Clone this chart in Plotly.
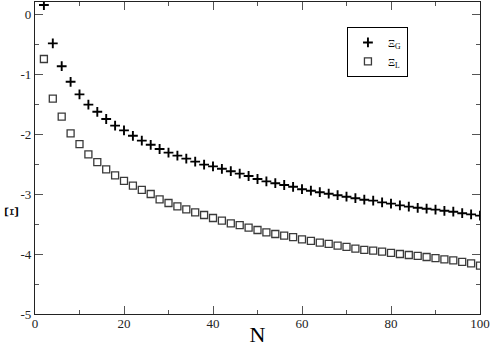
import plotly.graph_objects as go

N = list(range(2, 101, 2))

xi_G = [0.15, -0.49, -0.87, -1.13, -1.34, -1.51, -1.63, -1.75, -1.86, -1.94,
        -2.03, -2.11, -2.18, -2.25, -2.31, -2.36, -2.41, -2.46, -2.51, -2.54,
        -2.58, -2.62, -2.66, -2.70, -2.75, -2.79, -2.82, -2.85, -2.88, -2.92,
        -2.945, -2.97, -2.995, -3.02, -3.045, -3.07, -3.095, -3.11, -3.14, -3.16,
        -3.19, -3.21, -3.23, -3.245, -3.26, -3.28, -3.295, -3.32, -3.34, -3.36]

xi_L = [-0.75, -1.41, -1.71, -1.99, -2.17, -2.34, -2.47, -2.59, -2.69, -2.78,
        -2.86, -2.93, -3.00, -3.09, -3.15, -3.205, -3.255, -3.305, -3.35, -3.40,
        -3.445, -3.49, -3.52, -3.56, -3.60, -3.64, -3.667, -3.695, -3.72, -3.755,
        -3.78, -3.81, -3.83, -3.86, -3.88, -3.91, -3.93, -3.945, -3.96, -3.98,
        -4.00, -4.017, -4.03, -4.05, -4.07, -4.09, -4.105, -4.13, -4.155, -4.195]

x_ticks = [0, 20, 40, 60, 80, 100]
y_ticks = [-5, -4, -3, -2, -1, 0]

FONT = "Liberation Serif"

fig = go.Figure()
fig.add_trace(go.Scatter(
    x=N, y=xi_G, mode="markers", name="Ξ<sub>G</sub>",
    marker=dict(symbol="cross-thin", size=7, color="black",
                line=dict(color="black", width=1.9)),
))
fig.add_trace(go.Scatter(
    x=N, y=xi_L, mode="markers", name="Ξ<sub>L</sub>",
    marker=dict(symbol="square-open", size=7, color="#3a3a3a",
                line=dict(color="#3a3a3a", width=1.3)),
))

axis_common = dict(
    showgrid=False, zeroline=False, showline=True, linecolor="#222",
    linewidth=1.3, mirror="allticks", ticks="inside", ticklen=8,
    tickwidth=1.2, tickcolor="#555",
    tickfont=dict(family=FONT, size=13, color="#222"),
)

fig.update_xaxes(
    range=[0, 100], tickvals=x_ticks, ticktext=[str(v) for v in x_ticks],
    minor=dict(ticks="inside", ticklen=4, dtick=10, tickcolor="#555", tickwidth=1.2),
    title=dict(text="N", font=dict(family=FONT, size=22, color="black"), standoff=5),
    ticklabelstandoff=-3,
    automargin=False, **axis_common,
)
fig.update_yaxes(
    range=[-5, 0.2], tickvals=y_ticks, ticktext=[str(v) for v in y_ticks],
    minor=dict(ticks="inside", ticklen=4, dtick=0.5, tickcolor="#555", tickwidth=1.2),
    automargin=False, **axis_common,
)

fig.add_annotation(
    text="Ξ", textangle=-90, xref="paper", yref="paper",
    x=-0.052, y=(314 - 212) / 312, xanchor="center", yanchor="middle",
    showarrow=False,
    font=dict(family=FONT, size=18, color="black"),
)

fig.update_layout(
    width=491, height=347,
    margin=dict(l=35, r=11, t=2, b=33),
    paper_bgcolor="white", plot_bgcolor="white",
    showlegend=True,
    legend=dict(
        x=0.701, y=0.92, xanchor="left", yanchor="top",
        bordercolor="black", borderwidth=1, bgcolor="white",
        font=dict(family=FONT, size=11, color="black"),
        itemwidth=30, tracegroupgap=0,
    ),
)

fig.write_html("out.html", config={"displayModeBar": False},
               post_script="document.body.style.margin='0px';document.body.style.overflow='hidden';")
